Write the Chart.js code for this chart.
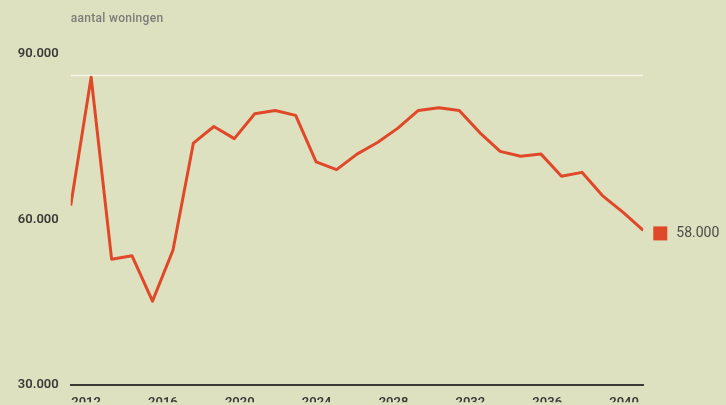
<!DOCTYPE html>
<html>
<head>
<meta charset="utf-8">
<script src="https://cdn.jsdelivr.net/npm/chart.js@4/dist/chart.umd.min.js"></script>
<style>
  html, body { margin: 0; padding: 0; background: #dee1bf; }
  #wrap { width: 726px; height: 405px; position: relative; }
</style>
</head>
<body>
<div id="wrap"><canvas id="c" width="726" height="405"></canvas></div>
<script>
// ---- data ----
const years = [2012,2013,2014,2015,2016,2017,2018,2019,2020,2021,2022,2023,2024,2025,2026,2027,2028,2029,2030,2031,2032,2033,2034,2035,2036,2037,2038,2039,2040];
const woningen = [62500,85700,52800,53400,45200,54400,73800,76800,74600,79100,79700,78800,70400,69000,71800,73900,76500,79700,80200,79700,75700,72300,71400,71800,67800,68500,64300,61300,58000];
const referenceValue = 86000;
const xTickYears = [2012,2016,2020,2024,2028,2032,2036,2040];
const yTickValues = [30000,60000,90000];
const yTitle = 'aantal woningen';

function fmt(v) {
  return String(Math.round(v)).replace(/\B(?=(\d{3})+(?!\d))/g, '.');
}

const lineColor = '#e0482a';
const textColor = '#3a3a38';

const overlay = {
  id: 'overlay',
  afterDatasetsDraw(chart) {
    const ctx = chart.ctx;
    const meta = chart.getDatasetMeta(1);
    const pt = meta.data[meta.data.length - 1];
    ctx.save();
    ctx.fillStyle = lineColor;
    ctx.fillRect(pt.x + 10, pt.y - 4, 14, 14);
    ctx.fillStyle = '#4a4a48';
    ctx.font = '400 14px Roboto';
    ctx.textBaseline = 'middle';
    ctx.textAlign = 'left';
    ctx.fillText(fmt(woningen[woningen.length - 1]), pt.x + 33, pt.y + 3);
    // axis title
    ctx.fillStyle = '#7c7c78';
    ctx.font = '500 12px Roboto';
    try { ctx.letterSpacing = '0.3px'; } catch (e) {}
    ctx.fillText(yTitle, chart.chartArea.left, 19);
    ctx.restore();
  }
};

new Chart(document.getElementById('c'), {
  type: 'line',
  data: {
    datasets: [
      {
        data: [{x: years[0], y: referenceValue}, {x: years[years.length - 1], y: referenceValue}],
        borderColor: '#f6f4e6',
        borderWidth: 1.5,
        pointRadius: 0,
        order: 2
      },
      {
        data: years.map((y, i) => ({x: y, y: woningen[i]})),
        borderColor: lineColor,
        borderWidth: 3,
        pointRadius: 0,
        tension: 0,
        borderJoinStyle: 'round',
        order: 1
      }
    ]
  },
  options: {
    responsive: false,
    animation: false,
    events: [],
    layout: { padding: { left: 0, right: 82.7, top: 53.5, bottom: 0 } },
    plugins: { legend: { display: false }, tooltip: { enabled: false }, title: { display: false } },
    scales: {
      x: {
        type: 'linear', min: 2012, max: 2040, display: false
      },
      x2: {
        type: 'linear', position: 'bottom', min: 2011.2, max: 2041,
        grid: { display: false, drawTicks: false },
        border: { display: true, color: '#3a3a38', width: 2 },
        afterBuildTicks(scale) { scale.ticks = xTickYears.map(v => ({ value: v })); },
        afterFit(scale) { scale.height = 17; },
        ticks: {
          padding: 10,
          color: textColor,
          font: { family: 'Roboto', size: 13, weight: '600' },
          maxRotation: 0,
          autoSkip: false,
          callback: v => String(v)
        }
      },
      y: {
        type: 'linear', min: 30000, max: 90000,
        grid: { display: false, drawTicks: false },
        border: { display: false },
        afterBuildTicks(scale) { scale.ticks = yTickValues.map(v => ({ value: v })); },
        afterFit(scale) { scale.width = 70.7; },
        ticks: {
          padding: 12,
          color: textColor,
          font: { family: 'Roboto', size: 13, weight: '600' },
          callback: v => fmt(v)
        }
      }
    }
  },
  plugins: [overlay]
});
</script>
</body>
</html>
